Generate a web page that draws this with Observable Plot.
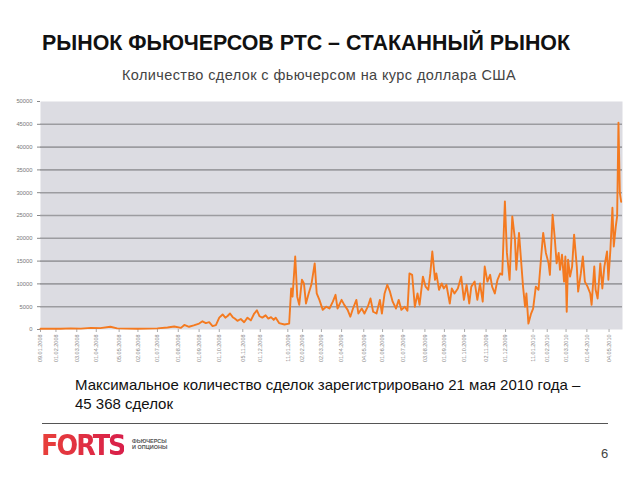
<!DOCTYPE html>
<html>
<head>
<meta charset="utf-8">
<script src="https://cdn.jsdelivr.net/npm/d3@7"></script>
<script src="https://cdn.jsdelivr.net/npm/@observablehq/plot@0.6"></script>
<style>
  html, body { margin: 0; padding: 0; background: #fff; }
  #page { position: relative; width: 640px; height: 480px; overflow: hidden; font-family: "Liberation Sans", Arial, sans-serif; }
  #title { position: absolute; left: 42px; top: 31px; font-size: 21.4px; font-weight: bold; color: #111; white-space: nowrap; }
  #subtitle { position: absolute; left: 0; width: 638px; top: 67px; text-align: center; font-size: 14.5px; color: #444; letter-spacing: 0.4px; white-space: nowrap; }
  #chart { position: absolute; left: 0; top: 95px; }
  #note { position: absolute; left: 75px; top: 375px; font-size: 15px; line-height: 19px; color: #111; }
  #hr { position: absolute; left: 42px; top: 423px; width: 566px; height: 1px; background: #555; }
  #logo { position: absolute; left: 41px; top: 429px; font-family: "DejaVu Sans", sans-serif; font-weight: bold; font-size: 26px; letter-spacing: -2px; transform-origin: left top; transform: scale(0.98, 1.1);
          background: linear-gradient(90deg, #e8403a, #d81f4a); -webkit-background-clip: text; background-clip: text; color: transparent; white-space: nowrap; }
  #logosub { position: absolute; left: 132px; top: 438px; font-size: 5.5px; line-height: 6px; color: #555; font-weight: bold; white-space: nowrap; }
  #pagenum { position: absolute; left: 601px; top: 446px; font-size: 13px; color: #444; }
</style>
</head>
<body>
<div id="page">
  <div id="title">РЫНОК ФЬЮЧЕРСОВ РТС – СТАКАННЫЙ РЫНОК</div>
  <div id="subtitle">Количество сделок с фьючерсом на курс доллара США</div>
  <div id="chart"></div>
  <div id="note">Максимальное количество сделок зарегистрировано 21 мая 2010 года –<br>45 368 сделок</div>
  <div id="hr"></div>
  <div id="logo">FORTS</div>
  <div id="logosub">ФЬЮЧЕРСЫ<br>И ОПЦИОНЫ</div>
  <div id="pagenum">6</div>
</div>
<script>
// Start date of the series; day offsets below are counted from it
const startDate = "2008-01-09";

// Day offsets (calendar days from startDate) of sampled points
const dayOffsets = [
  0, 15, 30, 45, 60, 75, 89, 104, 114, 129, 144, 159, 174, 189, 199, 209, 214, 221, 228, 236,
  241, 246, 251, 256, 261, 266, 271, 275, 278, 282, 286, 289, 293, 298, 303, 308, 313, 318, 322, 326,
  330, 335, 339, 343, 347, 350, 355, 363, 370,
  373, 375, 379, 382, 385, 389, 392, 395, 399, 403, 408, 411, 415, 420, 425, 430, 435, 439, 442, 448,
  452, 457, 461, 465, 470, 473, 478, 482, 487, 491, 495, 500, 505, 508, 512, 516, 520, 524, 529, 533,
  537, 542, 546, 549, 553, 557, 561, 564, 569, 573, 577, 580, 583, 587, 589, 593, 597, 600, 604, 609,
  612, 616, 621, 626, 630, 634, 638, 641, 646, 650, 654, 658, 661, 665, 669, 672, 676, 680, 684, 687,
  691, 694, 698, 702, 706, 708, 712, 715, 718, 721, 723, 726, 730, 733, 737, 741, 745, 748, 752, 756,
  758, 762, 765, 768, 771, 773, 776, 779, 781, 783, 785, 788, 791, 794, 798, 800, 804, 807, 810, 814,
  818, 820, 824, 826, 829, 833, 836, 839, 843, 845, 848, 851, 853, 856, 858, 860, 862, 864
];

// Number of trades per day
const trades = [
  150, 200, 150, 250, 200, 350, 300, 600, 250, 200, 150, 200, 250, 450, 650, 350, 1000, 600, 900, 1300,
  1800, 1400, 1600, 750, 950, 2600, 3300, 2600, 2900, 3500, 2700, 2400, 1900, 2300, 1600, 2600, 2000, 3500, 4200, 2900,
  2600, 3100, 2400, 2700, 2100, 2600, 1400, 1100, 1300,
  9000, 7200, 16000, 7200, 5400, 10900, 10100, 5700, 7900, 9800, 14500, 7900, 6500, 4300, 5000, 4600, 6100, 7600, 4600, 6500,
  5400, 4300, 2800, 4600, 6500, 3500, 4600, 3500, 5000, 6800, 3900, 3500, 6500, 3500, 7900, 9800, 8300, 6100, 4600, 6500,
  4300, 5000, 4100, 12300, 12000, 5000, 7900, 5400, 11600, 9400, 8700, 12300, 17100, 10900, 12300, 8700, 10100, 9000, 9800, 5700,
  9000, 7900, 9000, 11600, 6500, 9800, 5700, 9400, 10500, 6500, 10100, 6100, 13800, 10500, 12000, 9400, 7900, 10900, 12300, 12000,
  28100, 16800, 10900, 24800, 19700, 13100, 21200, 15300, 9400, 5000, 7900, 1300, 3500, 4600, 9400, 8700, 16000, 21200, 16800, 14500,
  12000, 25200, 20400, 14500, 16800, 13100, 16400, 10500, 16000, 3900, 15300, 11600, 13800, 20800, 13800, 8300, 12300, 16000, 10500, 9400,
  7900, 5400, 13800, 8700, 6800, 14500, 9000, 13800, 17100, 10900, 17500, 26700, 18200, 22600, 24800, 45368, 30000, 28000
];

// X-axis tick labels (dates)
const xTickLabels = [
  "09.01.2008", "01.02.2008", "03.03.2008", "01.04.2008", "05.05.2008", "02.06.2008", "01.07.2008",
  "01.08.2008", "01.09.2008", "01.10.2008", "05.11.2008", "01.12.2008", "11.01.2009", "02.02.2009",
  "02.03.2009", "01.04.2009", "04.05.2009", "01.06.2009", "01.07.2009", "03.08.2009", "01.09.2009",
  "01.10.2009", "02.11.2009", "01.12.2009", "11.01.2010", "01.02.2010", "01.03.2010", "01.04.2010",
  "04.05.2010"
];

// Y-axis ticks
const yTicks = [0, 5000, 10000, 15000, 20000, 25000, 30000, 35000, 40000, 45000, 50000];

const parseDMY = d3.utcParse("%d.%m.%Y");
const fmtDMY = d3.utcFormat("%d.%m.%Y");
const base = d3.utcParse("%Y-%m-%d")(startDate);
const data = dayOffsets.map((o, i) => ({ date: d3.utcDay.offset(base, o), value: trades[i] }));
const xTicks = xTickLabels.map(parseDMY);

const chart = Plot.plot({
  width: 640,
  height: 276,
  marginTop: 6,
  marginBottom: 42,
  marginLeft: 40,
  marginRight: 18,
  style: { fontFamily: "Liberation Sans, Arial, sans-serif", background: "transparent" },
  x: { type: "utc", domain: [base, d3.utcDay.offset(base, 866)] },
  y: { domain: [0, 50000] },
  marks: [
    Plot.frame({ fill: "#dcdce2", stroke: "none" }),
    Plot.ruleY(yTicks.slice(1, -1), { stroke: "#9c9ca0", strokeWidth: 1.6 }),
    Plot.axisY({ ticks: yTicks, tickFormat: d => String(d), tickSize: 3, fontSize: 5.8, fill: "#777", stroke: "#888", label: null, tickPadding: 5 }),
    Plot.axisX({ ticks: xTicks, tickFormat: fmtDMY, tickRotate: -90, tickSize: 3, fontSize: 5.5, fill: "#888", stroke: "#aaa", label: null, tickPadding: 2 }),
    Plot.lineY(data, { x: "date", y: "value", stroke: "#f47a20", strokeWidth: 1.9, strokeLinejoin: "round" })
  ]
});
document.getElementById("chart").appendChild(chart);
</script>
</body>
</html>
